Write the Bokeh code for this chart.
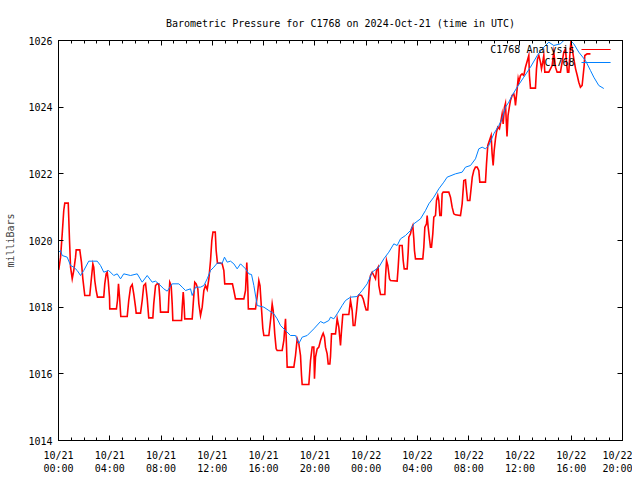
from bokeh.plotting import figure
from bokeh.models import (Range1d, FixedTicker, LinearAxis, CustomJSTickFormatter,
                          Label, Arrow)
from bokeh.embed import file_html
from bokeh.resources import INLINE

FONT = "DejaVu Sans Mono"
TITLE = "Barometric Pressure for C1768 on 2024-Oct-21 (time in UTC)"
Y_LABEL = "milliBars"
SERIES_NAMES = ["C1768 Analysis", "C1768"]
SERIES_COLORS = ["#ff0000", "#0080ff"]

# x axis: hours since 2024-10-21 00:00 UTC
tick_hours = [0, 4, 8, 12, 16, 20, 24, 28, 32, 36, 40, 44]
tick_dates = ["10/21"] * 6 + ["10/22"] * 6
tick_times = ["00:00", "04:00", "08:00", "12:00", "16:00", "20:00"] * 2
minor_hours = list(range(0, 45))
y_ticks = [1014, 1016, 1018, 1020, 1022, 1024, 1026]

# observed station pressure (C1768)
obs_hours = [0.02, 0.16, 0.29, 0.68, 0.94, 1.19, 1.46, 1.72, 1.97, 2.36,
             3.02, 3.28, 3.53, 3.92, 4.31, 4.58, 4.84, 5.09, 5.62, 6.14,
             6.53, 6.92, 7.31, 7.57, 7.82, 8.21, 8.48, 8.87, 9.39, 9.65,
             9.91, 10.30, 10.43, 10.69, 11.08, 11.34, 11.60, 11.86, 12.12, 12.38,
             12.77, 12.95, 13.16, 13.42, 13.68, 13.94, 14.20, 14.59, 14.85, 15.06,
             15.24, 15.50, 16.02, 16.41, 16.80, 17.06, 17.32, 17.71, 18.10, 18.49,
             18.75, 19.01, 19.40, 19.92, 20.44, 20.70, 21.09, 21.22, 21.48, 21.74,
             22.13, 22.39, 22.78, 23.30, 23.69, 24.08, 24.47, 24.99, 25.38, 25.77,
             26.16, 26.42, 26.68, 27.07, 27.46, 27.72, 28.24, 28.63, 28.89, 29.28,
             29.67, 30.06, 30.32, 30.97, 31.49, 31.75, 32.14, 32.53, 32.79, 33.05,
             33.31, 33.57, 33.96, 34.35, 34.61, 34.87, 35.13, 35.39, 35.78, 36.30,
             36.82, 37.35, 37.74, 38.25, 38.64, 39.16, 39.42, 39.94, 40.20, 40.59,
             41.11, 41.50, 41.76, 42.15, 42.54]
obs_mbar = [1019.65, 1019.70, 1019.55, 1019.50, 1019.25, 1019.20, 1019.10, 1018.95, 1019.10, 1019.38,
            1019.38, 1019.25, 1019.05, 1019.10, 1018.95, 1019.00, 1018.85, 1019.00, 1018.95, 1019.00,
            1018.75, 1018.95, 1018.75, 1018.78, 1018.70, 1018.55, 1018.48, 1018.70, 1018.70, 1018.60,
            1018.50, 1018.55, 1018.35, 1018.60, 1018.60, 1018.65, 1018.85, 1019.10, 1019.20, 1019.32,
            1019.32, 1019.50, 1019.35, 1019.38, 1019.30, 1019.15, 1019.30, 1019.15, 1019.00, 1018.98,
            1018.65, 1018.05, 1018.00, 1017.90, 1017.80, 1017.65, 1017.45, 1017.30, 1017.15, 1017.15,
            1016.91, 1017.10, 1017.15, 1017.35, 1017.57, 1017.52, 1017.60, 1017.70, 1017.65, 1017.80,
            1018.05, 1018.20, 1018.30, 1018.32, 1018.50, 1018.70, 1019.05, 1019.20, 1019.45, 1019.65,
            1019.90, 1019.85, 1020.05, 1020.15, 1020.30, 1020.50, 1020.65, 1020.90, 1021.10, 1021.30,
            1021.55, 1021.75, 1021.90, 1022.00, 1022.05, 1022.20, 1022.25, 1022.45, 1022.75, 1022.80,
            1022.75, 1022.85, 1023.20, 1023.45, 1023.65, 1024.00, 1024.15, 1024.35, 1024.60, 1024.90,
            1025.20, 1025.55, 1025.75, 1025.95, 1025.85, 1025.90, 1026.00, 1026.00, 1025.90, 1025.65,
            1025.40, 1025.10, 1024.90, 1024.65, 1024.56]

# analysis pressure (C1768 Analysis)
ana_hours = [0.02, 0.16, 0.29, 0.41, 0.49, 0.76, 0.86, 0.94, 1.07, 1.19,
             1.33, 1.38, 1.66, 1.79, 1.90, 2.05, 2.44, 2.55, 2.68, 2.75,
             2.83, 2.94, 3.04, 3.53, 3.61, 3.72, 3.80, 3.88, 3.98, 4.00,
             4.52, 4.60, 4.68, 4.78, 4.86, 5.36, 5.48, 5.62, 5.75, 5.87,
             6.01, 6.06, 6.40, 6.53, 6.65, 6.79, 6.92, 7.04, 7.36, 7.43,
             7.57, 7.70, 7.82, 7.90, 7.96, 8.56, 8.61, 8.68, 8.79, 8.87,
             8.92, 9.60, 9.65, 9.73, 9.78, 9.85, 10.43, 10.51, 10.63, 10.74,
             10.87, 10.95, 11.08, 11.21, 11.34, 11.47, 11.60, 11.73, 11.86, 11.96,
             12.05, 12.23, 12.30, 12.40, 12.64, 12.77, 12.90, 12.97, 13.57, 13.68,
             13.81, 14.46, 14.59, 14.69, 14.77, 14.81, 15.37, 15.50, 15.63, 15.72,
             15.84, 15.94, 16.02, 16.41, 16.54, 16.67, 16.75, 16.87, 16.98, 17.06,
             17.45, 17.58, 17.71, 17.79, 17.84, 18.36, 18.49, 18.62, 18.75, 18.88,
             18.96, 19.01, 19.53, 19.66, 19.79, 19.92, 19.97, 20.05, 20.18, 20.31,
             20.44, 20.57, 20.65, 20.75, 20.83, 20.96, 21.04, 21.17, 21.22, 21.30,
             21.61, 21.74, 21.87, 22.00, 22.08, 22.18, 22.65, 22.78, 22.91, 22.99,
             23.12, 23.25, 23.35, 23.43, 23.64, 23.77, 23.90, 24.00, 24.13, 24.26,
             24.34, 24.47, 24.60, 24.73, 24.81, 24.94, 24.99, 25.12, 25.46, 25.51,
             25.59, 25.69, 25.82, 25.90, 26.42, 26.50, 26.60, 26.81, 26.89, 26.97,
             27.20, 27.28, 27.33, 27.46, 27.54, 27.64, 27.72, 27.77, 27.85, 28.42,
             28.50, 28.58, 28.71, 28.76, 28.84, 28.94, 29.02, 29.10, 29.20, 29.28,
             29.41, 29.49, 29.59, 29.67, 29.75, 29.86, 29.93, 30.01, 30.45, 30.58,
             30.71, 30.84, 30.97, 31.36, 31.49, 31.62, 31.75, 31.83, 31.91, 32.09,
             32.20, 32.28, 32.40, 32.53, 32.66, 32.79, 32.87, 33.31, 33.39, 33.49,
             33.62, 33.75, 33.83, 33.91, 33.99, 34.09, 34.17, 34.27, 34.40, 34.50,
             34.61, 34.69, 34.79, 34.87, 34.93, 34.99, 35.07, 35.18, 35.26, 35.39,
             35.52, 35.60, 35.65, 35.78, 35.86, 35.91, 36.04, 36.17, 36.30, 36.43,
             36.69, 36.74, 36.82, 37.21, 37.29, 37.37, 37.47, 37.60, 37.68, 37.78,
             37.86, 37.94, 38.25, 38.38, 38.51, 38.64, 38.77, 38.90, 39.16, 39.29,
             39.42, 39.55, 39.63, 39.71, 39.81, 39.89, 39.97, 40.08, 40.20, 40.34,
             40.47, 40.59, 40.72, 40.85, 40.93, 41.01, 41.06, 41.24, 41.50]
ana_mbar = [1019.12, 1019.50, 1020.20, 1020.90, 1021.12, 1021.12, 1020.00, 1019.20, 1018.85, 1019.10,
            1019.50, 1019.72, 1019.72, 1019.35, 1018.85, 1018.35, 1018.35, 1018.80, 1019.30, 1019.20,
            1018.80, 1018.50, 1018.30, 1018.30, 1018.70, 1019.00, 1019.05, 1018.80, 1018.30, 1017.95,
            1017.95, 1018.20, 1018.70, 1018.20, 1017.72, 1017.72, 1018.20, 1018.60, 1018.68, 1018.40,
            1018.00, 1017.82, 1017.82, 1018.20, 1018.65, 1018.71, 1018.26, 1017.68, 1017.68, 1018.10,
            1018.65, 1018.70, 1018.70, 1018.30, 1017.85, 1017.85, 1018.30, 1018.75, 1018.65, 1018.10,
            1017.60, 1017.60, 1018.00, 1018.45, 1018.20, 1017.65, 1017.65, 1018.10, 1018.75, 1018.70,
            1018.55, 1018.10, 1017.75, 1018.00, 1018.50, 1018.65, 1018.53, 1018.85, 1019.40, 1020.00,
            1020.25, 1020.25, 1019.70, 1019.32, 1019.32, 1019.30, 1019.10, 1018.70, 1018.70, 1018.50,
            1018.25, 1018.25, 1018.50, 1019.34, 1018.59, 1017.95, 1017.95, 1018.32, 1018.80, 1018.65,
            1017.93, 1017.36, 1017.15, 1017.15, 1017.60, 1018.10, 1017.90, 1017.20, 1016.75, 1016.70,
            1016.70, 1017.00, 1017.65, 1016.80, 1016.20, 1016.20, 1016.55, 1017.05, 1016.90, 1016.55,
            1015.95, 1015.68, 1015.68, 1016.40, 1016.80, 1016.80, 1015.85, 1016.50, 1016.75, 1016.80,
            1017.00, 1017.15, 1017.22, 1017.10, 1016.80, 1016.60, 1016.30, 1016.30, 1016.52, 1017.20,
            1017.20, 1017.65, 1017.40, 1016.85, 1017.30, 1017.78, 1017.78, 1018.20, 1017.90, 1017.45,
            1017.45, 1017.90, 1018.30, 1018.37, 1018.35, 1018.25, 1018.05, 1017.92, 1017.92, 1018.75,
            1018.95, 1019.05, 1018.95, 1018.85, 1019.10, 1019.20, 1018.65, 1018.38, 1018.38, 1018.90,
            1019.40, 1019.25, 1018.85, 1018.80, 1018.78, 1019.20, 1019.85, 1019.85, 1019.40, 1019.15,
            1019.15, 1019.65, 1020.10, 1020.20, 1020.35, 1020.45, 1020.05, 1019.70, 1019.45, 1019.45,
            1019.80, 1020.40, 1020.50, 1020.75, 1020.40, 1020.05, 1019.80, 1019.80, 1020.20, 1020.70,
            1020.75, 1021.20, 1021.35, 1021.20, 1020.75, 1020.75, 1021.40, 1021.45, 1021.45, 1021.30,
            1021.00, 1020.80, 1020.77, 1020.75, 1021.10, 1021.80, 1021.82, 1021.50, 1021.20, 1021.20,
            1021.60, 1021.90, 1022.10, 1022.20, 1022.20, 1022.10, 1021.75, 1021.75, 1022.30, 1022.85,
            1023.00, 1023.15, 1022.60, 1022.25, 1022.70, 1023.05, 1023.25, 1023.40, 1023.35, 1023.55,
            1023.80, 1023.50, 1023.99, 1024.11, 1023.60, 1023.12, 1023.75, 1024.02, 1024.20, 1024.35,
            1024.40, 1024.25, 1024.05, 1024.55, 1024.85, 1024.75, 1024.95, 1025.00, 1024.95, 1025.20,
            1025.55, 1024.95, 1024.57, 1024.57, 1025.15, 1025.45, 1025.55, 1025.35, 1025.15, 1025.35,
            1025.55, 1025.05, 1025.05, 1025.15, 1025.25, 1025.65, 1025.20, 1025.05, 1025.05, 1025.35,
            1025.65, 1025.75, 1025.35, 1025.05, 1025.05, 1025.55, 1025.94, 1025.75, 1025.45, 1025.15,
            1024.95, 1024.75, 1024.60, 1024.65, 1024.95, 1025.25, 1025.55, 1025.60, 1025.60]

# legend placement (data units, top-right corner, gnuplot style: text then sample)
LEG_TEXT_X = 40.26
LEG_LINE_X0 = 40.80
LEG_LINE_X1 = 43.07
LEG_ROWS_Y = [1025.73, 1025.34]

p = figure(width=632, height=478, output_backend="svg", toolbar_location=None,
           x_range=Range1d(0, 44), y_range=Range1d(1014, 1026),
           min_border_left=58, min_border_right=10,
           min_border_top=40, min_border_bottom=38,
           title=TITLE)
p.title.align = "center"
p.title.text_font = FONT
p.title.text_font_size = "10px"
p.title.text_font_style = "normal"
p.title.text_color = "black"
p.title.standoff = 24
p.grid.visible = False
p.outline_line_color = "black"
p.outline_line_width = 1
p.background_fill_color = "white"
p.border_fill_color = "white"

x_ticker = FixedTicker(ticks=tick_hours, minor_ticks=minor_hours)
y_ticker = FixedTicker(ticks=y_ticks, minor_ticks=[])
blank = CustomJSTickFormatter(code="return ''")


def style_axis(ax, minor):
    ax.axis_line_color = "black"
    ax.major_tick_line_color = "black"
    ax.minor_tick_line_color = "black"
    ax.major_tick_in = 5
    ax.major_tick_out = 0
    ax.minor_tick_in = 3 if minor else 0
    ax.minor_tick_out = 0
    ax.major_label_text_font = FONT
    ax.major_label_text_font_size = "10px"
    ax.major_label_text_color = "black"


xa = p.xaxis[0]
xa.ticker = x_ticker
xa.major_label_overrides = {h: f"{d}\n{t}" for h, d, t in zip(tick_hours, tick_dates, tick_times)}
style_axis(xa, True)
xa.major_label_standoff = 9

ya = p.yaxis[0]
ya.ticker = y_ticker
style_axis(ya, False)
ya.major_label_standoff = 6
ya.axis_label = Y_LABEL
ya.axis_label_text_font = FONT
ya.axis_label_text_font_size = "10px"
ya.axis_label_text_font_style = "normal"
ya.axis_label_standoff = 9

top = LinearAxis(ticker=x_ticker, formatter=blank)
style_axis(top, True)
top.major_label_standoff = 3
p.add_layout(top, "above")
right = LinearAxis(ticker=y_ticker, formatter=blank)
style_axis(right, False)
right.major_label_standoff = 0
p.add_layout(right, "right")

p.line(ana_hours, ana_mbar, line_color=SERIES_COLORS[0], line_width=1.6, line_join="miter")
p.line(obs_hours, obs_mbar, line_color=SERIES_COLORS[1], line_width=1.0, line_join="miter")

for name, color, yy in zip(SERIES_NAMES, SERIES_COLORS, LEG_ROWS_Y):
    p.add_layout(Label(x=LEG_TEXT_X, y=yy, text=name, text_align="right",
                       text_baseline="middle", text_font=FONT, text_font_size="10px",
                       text_color="black"))
    p.add_layout(Arrow(x_start=LEG_LINE_X0, y_start=yy, x_end=LEG_LINE_X1, y_end=yy,
                       start=None, end=None, line_color=color, line_width=1.0))

open("out.html", "w").write(file_html(p, INLINE))
